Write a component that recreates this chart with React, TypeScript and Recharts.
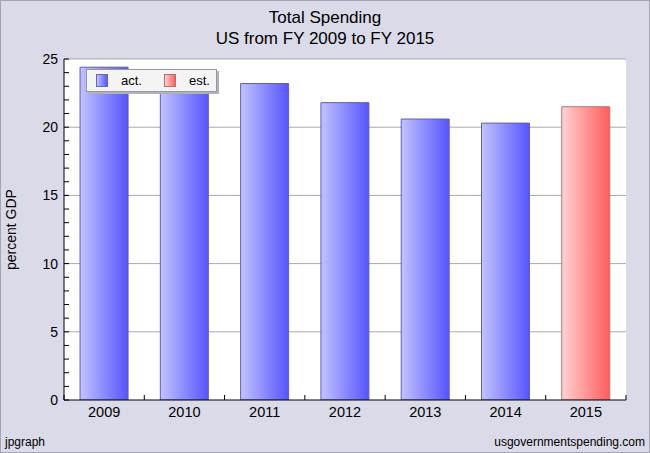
import React from 'react';
import { BarChart, Bar, XAxis, YAxis, CartesianGrid, Legend } from 'recharts';

const years = ['2009', '2010', '2011', '2012', '2013', '2014', '2015'];
const actualValues = [24.4, 23.4, 23.2, 21.8, 20.6, 20.3, null];
const estimateValues = [null, null, null, null, null, null, 21.5];
const yTicks = [0, 1, 2, 3, 4, 5, 6, 7, 8, 9, 10, 11, 12, 13, 14, 15, 16, 17, 18, 19, 20, 21, 22, 23, 24, 25];
const gridValues = [5, 10, 15, 20, 25];
const seriesLabels = ['act.', 'est.'];
const Y_MAX = 25;

const data = years.map((y, i) => ({ year: y, act: actualValues[i], est: estimateValues[i] }));

const W = 650;
const H = 453;
const FONT = '"Liberation Sans", Arial, sans-serif';
const Y_MARGIN = 6;
const X_MARGIN = 8;

const YTick = (props: any) => {
  const { x, y, payload } = props;
  const axisX = x + Y_MARGIN;
  const major = payload.value % 5 === 0;
  return (
    <g>
      <line x1={axisX} x2={axisX + 5} y1={y} y2={y} stroke="#000" strokeWidth={1} />
      {major && (
        <text x={x} y={y} dy={5} textAnchor="end" fontSize={14} fontFamily={FONT} fill="#000">
          {payload.value}
        </text>
      )}
    </g>
  );
};

const XTick = (props: any) => {
  const { x, y, payload, index, visibleTicksCount } = props;
  const axisY = y - X_MARGIN;
  const half = payload && typeof payload.offset === 'number' && payload.offset > 0 ? payload.offset : 562 / years.length / 2;
  const last = index === (visibleTicksCount ?? years.length) - 1;
  return (
    <g>
      <line x1={x - half} x2={x - half} y1={axisY} y2={axisY - 5} stroke="#000" />
      {last && <line x1={x + half} x2={x + half} y1={axisY} y2={axisY - 5} stroke="#000" />}
      <text x={x} y={y} dy={9} textAnchor="middle" fontSize={14.5} fontFamily={FONT} fill="#000">
        {payload.value}
      </text>
    </g>
  );
};

const LegendBox = () => (
  <div
    style={{
      width: 129,
      height: 21,
      background: '#f4f4f4',
      border: '1px solid #999',
      boxShadow: '2px 2px 0 #b0b0c0',
      display: 'flex',
      alignItems: 'center',
      fontFamily: FONT,
      fontSize: 13,
      color: '#000',
    }}
  >
    <div style={{ width: 10, height: 11, marginLeft: 9, border: '1px solid #6868a8', background: 'linear-gradient(to right,#c0c0ff,#5858ff)' }} />
    <span style={{ marginLeft: 13 }}>{seriesLabels[0]}</span>
    <div style={{ width: 10, height: 11, marginLeft: 22, border: '1px solid #b07070', background: 'linear-gradient(to right,#ffd0d0,#ff6060)' }} />
    <span style={{ marginLeft: 13 }}>{seriesLabels[1]}</span>
  </div>
);

const YLabel = (props: any) => {
  const vb = props.viewBox || { x: 0, y: 59, width: 64, height: 341 };
  const cx = vb.x + 16;
  const cy = vb.y + vb.height / 2;
  return (
    <text x={cx} y={cy} transform={`rotate(-90 ${cx} ${cy})`} textAnchor="middle" fontSize={14} fontFamily={FONT} fill="#000">
      percent GDP
    </text>
  );
};

const gridGen = (p: any) => {
  const ys = p && p.yAxis && p.yAxis.scale;
  if (ys && typeof ys === 'function') return gridValues.map((v) => ys(v));
  if (ys && typeof ys.map === 'function') return gridValues.map((v) => ys.map(v));
  const off = p.offset;
  return gridValues.map((v) => off.top + off.height * (1 - v / Y_MAX));
};

export default function App() {
  return (
    <div style={{ position: 'absolute', left: 0, top: 0, width: W, height: H, background: '#dadae8', overflow: 'hidden' }}>
      <div style={{ position: 'absolute', left: 0, top: 0, width: W - 2, height: H - 2, border: '1px solid #a4a4b4' }} />
      <div style={{ position: 'absolute', left: 0, top: 7, width: W, textAlign: 'center', fontFamily: FONT, fontSize: 17, lineHeight: '21px', color: '#000' }}>
        <div>Total Spending</div>
        <div>US from FY 2009 to FY 2015</div>
      </div>
      <div style={{ position: 'absolute', left: 5, top: 435, fontFamily: FONT, fontSize: 12, color: '#000' }}>jpgraph</div>
      <div style={{ position: 'absolute', right: 5, top: 435, fontFamily: FONT, fontSize: 12, color: '#000' }}>usgovernmentspending.com</div>
      <div style={{ position: 'absolute', left: 0, top: 0 }}>
        <BarChart width={W} height={H} data={data} margin={{ top: 59, right: 24, bottom: 23, left: 0 }} barCategoryGap="20%">
          <defs>
            <linearGradient id="gBlue" x1="0" y1="0" x2="1" y2="0">
              <stop offset="0%" stopColor="#c2c2ff" />
              <stop offset="100%" stopColor="#5555ff" />
            </linearGradient>
            <linearGradient id="gRed" x1="0" y1="0" x2="1" y2="0">
              <stop offset="0%" stopColor="#ffd2d2" />
              <stop offset="100%" stopColor="#ff5c5c" />
            </linearGradient>
          </defs>
          <CartesianGrid
            vertical={false}
            fill="#ffffff"
            stroke="#a8a8a8"
            horizontalCoordinatesGenerator={gridGen}
          />
          <XAxis
            dataKey="year"
            height={30}
            tickSize={0}
            tickMargin={X_MARGIN}
            tick={<XTick />}
            interval={0}
            axisLine={{ stroke: '#000' }}
          />
          <YAxis
            width={64}
            domain={[0, Y_MAX]}
            ticks={yTicks}
            interval={0}
            tickSize={0}
            tickMargin={Y_MARGIN}
            tick={<YTick />}
            axisLine={{ stroke: '#000' }}
            allowDataOverflow
            label={<YLabel />}
          />
          <Legend
            layout="horizontal"
            verticalAlign="middle"
            align="center"
            content={() => <LegendBox />}
            wrapperStyle={{ position: 'absolute', left: 86, top: 69, width: 131, height: 23 }}
          />
          <Bar dataKey="act" name={seriesLabels[0]} stackId="s" fill="url(#gBlue)" stroke="#6060a8" strokeWidth={1} isAnimationActive={false} />
          <Bar dataKey="est" name={seriesLabels[1]} stackId="s" fill="url(#gRed)" stroke="#c07070" strokeWidth={1} isAnimationActive={false} />
        </BarChart>
      </div>
    </div>
  );
}
